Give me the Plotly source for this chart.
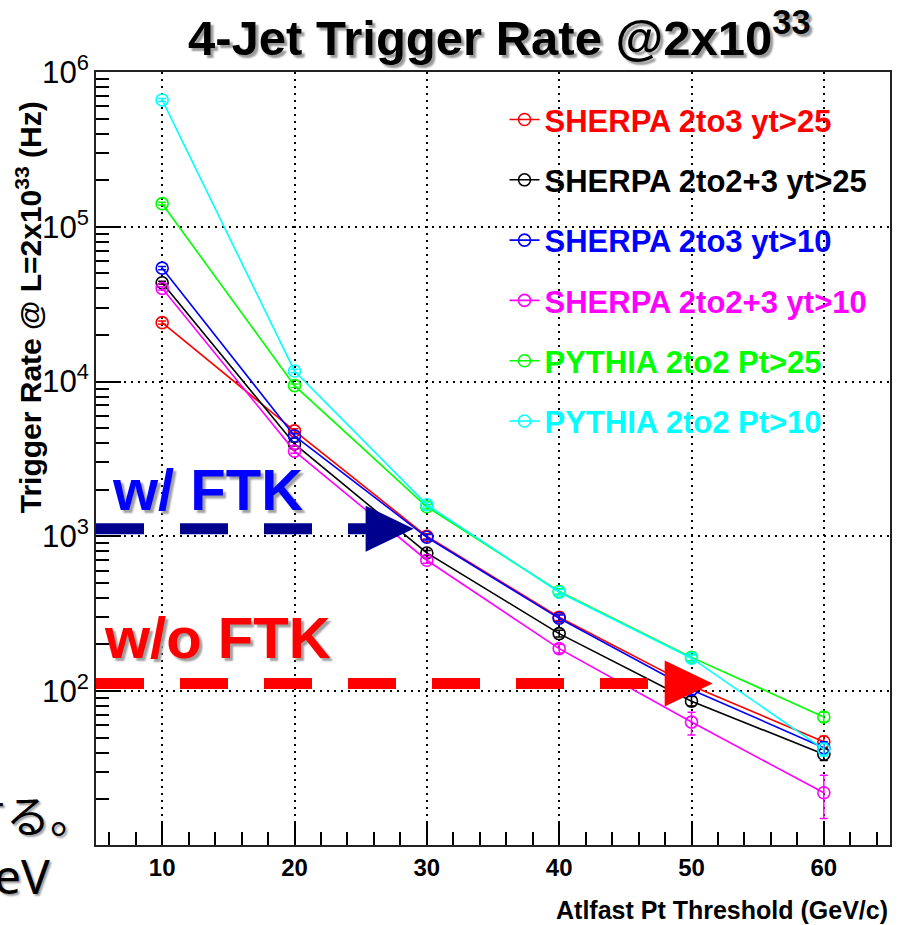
import plotly.graph_objects as go

# ---------------- data ----------------
pt_threshold = [10, 20, 30, 40, 50, 60]

series_names = [
    "SHERPA 2to3 yt&gt;25",
    "SHERPA 2to2+3 yt&gt;25",
    "SHERPA 2to3 yt&gt;10",
    "SHERPA 2to2+3 yt&gt;10",
    "PYTHIA 2to2 Pt&gt;25",
    "PYTHIA 2to2 Pt&gt;10",
]
sherpa_2to3_yt25 = [2.4e4, 4.8e3, 1.0e3, 300, 108, 47]
sherpa_2to23_yt25 = [4.35e4, 3.95e3, 780, 235, 86, 39]
sherpa_2to3_yt10 = [5.4e4, 4.45e3, 985, 295, 102, 43]
sherpa_2to23_yt10 = [4.0e4, 3.55e3, 700, 188, 63, 22]
pythia_pt25 = [1.41e5, 9.4e3, 1.55e3, 440, 165, 68]
pythia_pt10 = [6.6e5, 1.17e4, 1.6e3, 435, 163, 42]

err_sherpa_2to3_yt25 = [600, 150, 40, 15, 7, 4]
err_sherpa_2to23_yt25 = [1000, 120, 30, 12, 6, 3.5]
err_sherpa_2to3_yt10 = [1300, 140, 40, 15, 7, 4]
err_sherpa_2to23_yt10_up = [1000, 110, 30, 12, 10, 6.6]
err_sherpa_2to23_yt10_dn = [1000, 110, 30, 12, 11, 7]
err_pythia_pt25 = [3000, 250, 50, 18, 8, 5]
err_pythia_pt10 = [15000, 300, 50, 18, 8, 4]

series_values = [sherpa_2to3_yt25, sherpa_2to23_yt25, sherpa_2to3_yt10,
                 sherpa_2to23_yt10, pythia_pt25, pythia_pt10]
series_err_up = [err_sherpa_2to3_yt25, err_sherpa_2to23_yt25, err_sherpa_2to3_yt10,
                 err_sherpa_2to23_yt10_up, err_pythia_pt25, err_pythia_pt10]
series_err_dn = [err_sherpa_2to3_yt25, err_sherpa_2to23_yt25, err_sherpa_2to3_yt10,
                 err_sherpa_2to23_yt10_dn, err_pythia_pt25, err_pythia_pt10]
series_colors = ["#ff0000", "#000000", "#0000ff", "#ff00ff", "#00ff00", "#00ffff"]

# FTK rate arrows (w/ FTK, w/o FTK)
ftk_labels = ["w/ FTK", "w/o FTK"]
ftk_levels = [1.12e3, 1.12e2]
ftk_arrow_base = [25.4, 48.0]
ftk_arrow_tip = [29.0, 51.6]
ftk_colors = ["#00008f", "#ff0000"]

x_range = [5, 65]

# ---------------- figure ----------------
FONT = "Liberation Sans, Arial, Helvetica, sans-serif"
fig = go.Figure()

for name, vals, eu, ed, col in zip(series_names, series_values, series_err_up,
                                   series_err_dn, series_colors):
    fig.add_trace(go.Scatter(
        x=pt_threshold, y=vals, mode="lines+markers",
        name=f"<span style='color:{col}'>{name}</span>",
        legendgroup=name,
        line=dict(color=col, width=1.6),
        marker=dict(symbol="circle-open", size=12, color=col, line=dict(width=1.6, color=col)),
        error_y=dict(type="data", symmetric=False, array=eu, arrayminus=ed,
                     color=col, thickness=1.5, width=4),
    ))

shapes = []
for lvl, base, tip, col in zip(ftk_levels, ftk_arrow_base, ftk_arrow_tip, ftk_colors):
    shapes.append(dict(type="line", xref="x", yref="y", x0=x_range[0], x1=base,
                       y0=lvl, y1=lvl, line=dict(color=col, width=11, dash="48px,36px"),
                       layer="above"))
    shapes.append(dict(type="path", xref="x", yref="y", xsizemode="pixel", ysizemode="pixel",
                       xanchor=tip, yanchor=lvl, path="M0,0 L-48,-23 L-48,23 Z",
                       fillcolor=col, line=dict(width=0), layer="above"))

annotations = [
    dict(text="4-Jet Trigger Rate @2x10<sup>33</sup>", xref="paper", yref="paper",
         x=0.507, y=1.049, xanchor="center", yanchor="middle", showarrow=False,
         font=dict(family=FONT, size=49, color="black", weight="bold",
                   shadow="3px 3px 2px #9a9a9a")),
    dict(text="Trigger Rate @ L=2x10<sup>33</sup> (Hz)", xref="paper", yref="paper",
         x=-0.085, y=0.695, xanchor="center", yanchor="middle", textangle=-90,
         showarrow=False, font=dict(family=FONT, size=30, color="black", weight="bold")),
    dict(text="Atlfast Pt Threshold (GeV/c)", xref="paper", yref="paper",
         x=1.0, y=-0.084, xanchor="right", yanchor="middle", showarrow=False,
         font=dict(family=FONT, size=25, color="black", weight="bold")),
    dict(text=ftk_labels[0], xref="paper", yref="paper", x=0.0176, y=0.4605,
         xanchor="left", yanchor="middle", showarrow=False,
         font=dict(family=FONT, size=58, color="#0000ff", weight="bold",
                   shadow="3px 3px 2px #a0a0a0")),
    dict(text=ftk_labels[1], xref="paper", yref="paper", x=0.0076, y=0.268,
         xanchor="left", yanchor="middle", showarrow=False,
         font=dict(family=FONT, size=58, color="#ff0000", weight="bold",
                   shadow="3px 3px 2px #a0a0a0")),
    dict(text="する。", xref="paper", yref="paper", x=0.0, y=0.04,
         xanchor="right", yanchor="middle", showarrow=False,
         font=dict(family="Noto Sans CJK JP", size=44, color="black",
                   shadow="2px 2px 2px #a0a0a0")),
    dict(text="GeV", xref="paper", yref="paper", x=-0.056, y=-0.039,
         xanchor="right", yanchor="middle", showarrow=False,
         font=dict(family="Noto Sans, Liberation Sans", size=48, color="black",
                   shadow="2px 2px 2px #a0a0a0")),
]

fig.update_layout(
    width=904, height=925,
    margin=dict(l=96, r=14, t=72, b=80),
    paper_bgcolor="white", plot_bgcolor="white",
    font=dict(family=FONT, color="black"),
    showlegend=True,
    legend=dict(x=0.5145, y=0.973, xanchor="left", yanchor="top",
                bgcolor="rgba(0,0,0,0)", borderwidth=0,
                font=dict(family=FONT, size=31, weight="bold"),
                tracegroupgap=17, itemwidth=30),
    shapes=shapes,
    annotations=annotations,
)

fig.update_xaxes(
    range=x_range, tickmode="linear", tick0=0, dtick=10,
    ticks="inside", ticklen=24, tickwidth=1.5, tickcolor="black",
    minor=dict(dtick=2, ticks="inside", ticklen=13, tickwidth=1.5, tickcolor="black"),
    showgrid=True, gridcolor="black", gridwidth=1.5, griddash="2px,5px",
    showline=True, linecolor="#222", linewidth=2, mirror=True,
    tickfont=dict(family=FONT, size=24, color="black", weight="bold"),
    zeroline=False,
)
fig.update_yaxes(
    type="log", range=[1.005, 6], tickmode="linear", tick0=0, dtick=1,
    exponentformat="power",
    ticks="inside", ticklen=25, tickwidth=1.5, tickcolor="black",
    minor=dict(dtick="D1", ticks="inside", ticklen=13, tickwidth=1.5, tickcolor="black"),
    showgrid=True, gridcolor="black", gridwidth=1.5, griddash="2px,5px",
    showline=True, linecolor="#222", linewidth=2, mirror=True,
    tickfont=dict(family=FONT, size=25, color="black"),
    zeroline=False,
)

fig.write_html("out.html")
